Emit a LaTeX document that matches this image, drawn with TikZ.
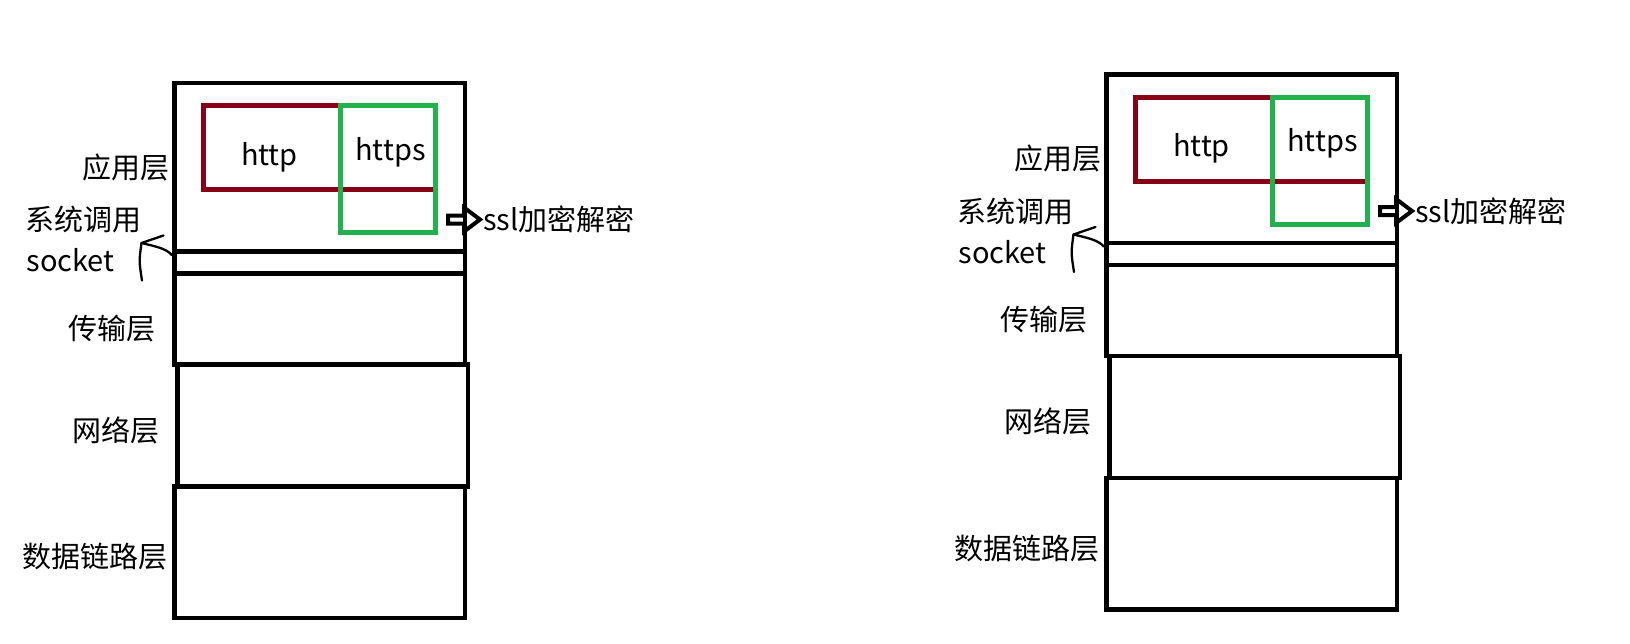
\documentclass[tikz,border=0pt]{standalone}
\usepackage{fontspec}
\setmainfont{Noto Sans CJK SC}
\usepackage{tikz}
\usetikzlibrary{positioning}
\usetikzlibrary{calc}
\definecolor{paintred}{HTML}{880015}
\definecolor{paintgreen}{HTML}{22B14C}
\tikzset{
	layer/.style={draw, line width=4.7pt, minimum width=290.7pt, inner sep=0pt, outer sep=0pt},
	proto/.style={draw=#1, line width=5pt, inner sep=0pt, outer sep=0pt, anchor=north west},
	lbl/.style={inner sep=0pt, font=\fontsize{29pt}{34pt}\selectfont},
	pen/.style={line width=2.3pt, line cap=round, line join=round},
	fat/.style={line width=4pt, line join=miter}
}

\begin{document}
\begin{tikzpicture}[x=1pt, y=-1pt]
\useasboundingbox (0,0) rectangle (1630,643);
\foreach \s/\dx/\dy in {L/0/0, R/932/-8.5} {
\begin{scope}[shift={(\dx,\dy)}]
\node[layer, minimum height=168.5pt, anchor=north west] (app\s) at (174.3,83) {};
\node[layer, minimum height=22pt, below=0pt of app\s] (sock\s) {};
\node[layer, minimum height=91pt, below=0pt of sock\s] (trans\s) {};
\node[layer, minimum height=122pt, below=0pt of trans\s, xshift=3pt] (net\s) {};
\node[layer, minimum height=131.5pt, below=0pt of net\s, xshift=-3pt] (link\s) {};

\node[proto=paintred, minimum width=232.3pt, minimum height=84pt] (http\s) at (203.5,105.8) {};
\node[proto=paintgreen, minimum width=94.3pt, minimum height=126.9pt] (https\s) at (340.7,105.8) {};
\node[lbl, anchor=base] (httptxt\s) at (269.5,165) {http};
\node[lbl, anchor=base] (httpstxt\s) at (390.4,160) {https};
\node[lbl, anchor=west] (ssl\s) at (483,219.5) {ssl加密解密};

\node[lbl] (appname\s) at (126,167) {应用层};
\node[lbl] (sysname\s) at (83.5,219.5) {系统调用};
\node[lbl, anchor=base] (sockname\s) at (70.5,271.7) {socket};
\node[lbl] (transname\s) at (111.7,328.3) {传输层};
\node[lbl] (netname\s) at (116,430) {网络层};
\node[lbl] (linkname\s) at (94.5,556.7) {数据链路层};

% open arrow towards ssl
\draw[fat] ($(ssl\s.west)+(-3,0)$) -- ++(-16,-12) -- ++(0,8) -- ++(-16,0) -- ++(0,8) -- ++(16,0) -- ++(0,8) -- cycle;

% hand drawn mark at socket
\coordinate (tick\s) at (141.5,243);
\coordinate (tail\s) at (142,280.5);
\draw[pen] ($(sock\s.north west)+(-2.5,3.5)$) .. controls +(-6,-7) and +(12,3) .. (tick\s) -- ++(22,-7.5);
\draw[pen] (tick\s) .. controls ($(tick\s)+(-2.5,18)$) .. (tail\s);
\end{scope}
}
\end{tikzpicture}
\end{document}
